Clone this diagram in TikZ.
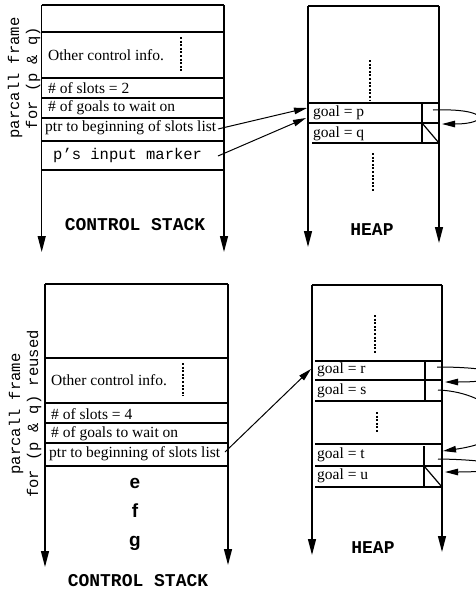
\documentclass[tikz,border=0pt]{standalone}
\usepackage{fontspec}
\setmainfont{Liberation Serif}
\setmonofont{Liberation Mono}
\newfontfamily\lsans{Liberation Sans}
\usetikzlibrary{arrows.meta}

\begin{document}
\begin{tikzpicture}[x=1pt,y=-1pt,
  rule/.style={line width=1.2pt},
  heavy/.style={line width=2.8pt},
  wall/.style={line width=1.3pt,-{Triangle[length=16pt,width=8pt]}},
  dots/.style={line width=1.4pt,dash pattern=on 2pt off 1.6pt},
  ptr/.style={line width=1pt,-{Triangle[length=13pt,width=6.5pt]}},
  txt/.style={anchor=west,inner sep=0pt,font=\fontsize{15.5}{17}\selectfont},
  mono/.style={inner sep=0pt,font=\ttfamily\fontsize{15.5}{18}\selectfont},
  title/.style={inner sep=0pt,font=\ttfamily\bfseries\fontsize{18}{20}\selectfont},
  letter/.style={anchor=base,inner sep=0pt,font=\lsans\bfseries\fontsize{19}{20}\selectfont},
]
\useasboundingbox (0,0) rectangle (476,590);

% ---------- upper picture: control stack ----------
\draw[rule] (41.7,5) -- (224,5);
\draw[wall] (41.7,5) -- (41.7,252);
\draw[wall] (224,5) -- (224,252);
\draw[heavy] (41.7,32) -- (224,32);
\draw[rule] (41.7,78) -- (224,78);
\draw[rule] (41.7,98) -- (224,98);
\draw[rule] (41.7,118) -- (224,118);
\draw[heavy] (41.7,141) -- (224,141);
\draw[heavy] (41.7,170) -- (224,170);
\draw[dots] (181,37) -- (181,71);

\node[txt] (ctlA) at (48,55) {Other control info.};
\node[txt] (slotsA) at (48,88) {\# of slots = 2};
\node[txt] (goalsA) at (48,108) {\# of goals to wait on};
\node[txt] (ptrA) at (45,128) {ptr to beginning of slots list};
\node[mono,anchor=west] (markA) at (53,155) {p’s input marker};
\node[title] (csA) at (135,225) {CONTROL STACK};
\node[mono,rotate=90,align=center] (frameA) at (24,78) {parcall frame\\for (p \& q)};

% ---------- upper picture: heap ----------
\draw[rule] (308,6) -- (439,6);
\draw[wall] (308,6) -- (308,247);
\draw[wall] (439,6) -- (439,243);
\draw[rule] (308,103) -- (439,103);
\draw[rule] (308,123) -- (439,123);
\draw[rule] (312,143) -- (439,143);
\draw[rule] (422,103) -- (422,143);
\draw[rule] (422,123) -- (439,143);
\draw[dots] (370,60) -- (370,100);
\draw[dots] (373,153) -- (373,192);

\node[txt] (gp) at (313,113) {goal = p};
\node[txt] (gq) at (313,134) {goal = q};
\node[title] (heapA) at (372,230) {HEAP};

\coordinate (ptrAend) at (218,129);
\coordinate (markAend) at (218,156);
\coordinate (inP) at (307,108);
\coordinate (inQ) at (306,118);
\coordinate (slotP) at (433,110);
\coordinate (slotQ) at (442,124);
\draw[ptr] (ptrAend) -- (inP);
\draw[ptr] (markAend) -- (inQ);
\draw[ptr] (slotP) .. controls (490,108) and (490,124) .. (slotQ);

% ---------- lower picture: control stack ----------
\draw[rule] (45,284) -- (228,284);
\draw[wall] (45,284) -- (45,567);
\draw[wall] (228,284) -- (228,565);
\draw[heavy] (45,358) -- (228,358);
\draw[rule] (45,403) -- (228,403);
\draw[rule] (45,423) -- (228,423);
\draw[rule] (45,443) -- (228,443);
\draw[heavy] (45,466) -- (228,466);
\draw[dots] (183,363) -- (183,396);

\node[txt] (ctlB) at (51,380) {Other control info.};
\node[txt] (slotsB) at (51,414) {\# of slots = 4};
\node[txt] (goalsB) at (51,434) {\# of goals to wait on};
\node[txt] (ptrB) at (49,454) {ptr to beginning of slots list};
\node[letter] (le) at (135,488) {e};
\node[letter] (lf) at (135,517) {f};
\node[letter] (lg) at (135,546) {g};
\node[title,anchor=base] (csB) at (138,586) {CONTROL STACK};
\node[mono,rotate=90,align=center] (frameB) at (25,414) {parcall frame\\for (p \& q) reused};

% ---------- lower picture: heap ----------
\draw[rule] (312,285) -- (442,285);
\draw[wall] (312,285) -- (312,555);
\draw[wall] (442,285) -- (442,552);
\draw[rule] (315,361) -- (443,361);
\draw[rule] (315,380) -- (443,380);
\draw[rule] (315,401) -- (443,401);
\draw[rule] (425,361) -- (425,401);
\draw[rule] (315,444) -- (442,444);
\draw[rule] (315,466) -- (442,466);
\draw[rule] (315,487) -- (442,487);
\draw[rule] (424,446) -- (424,487);
\draw[rule] (424,466) -- (442,487);
\draw[dots] (375,315) -- (375,353);
\draw[dots] (377,412) -- (377,433);

\node[txt] (gr) at (317,370) {goal = r};
\node[txt] (gs) at (317,391) {goal = s};
\node[txt] (gt) at (317,455) {goal = t};
\node[txt] (gu) at (317,476) {goal = u};
\node[title] (heapB) at (373,548) {HEAP};

\coordinate (ptrBend) at (225,452);
\coordinate (inR) at (311,369);
\coordinate (slotR) at (437,367);
\coordinate (inS) at (445,382);
\coordinate (slotS) at (438,390);
\coordinate (inT) at (443,451);
\coordinate (slotT) at (438,459);
\coordinate (inU) at (445,472);
\draw[ptr] (ptrBend) -- (inR);
\begin{scope}
  \clip (0,0) rectangle (476,590);
  \draw[ptr] (slotR) .. controls (515,367) and (515,382) .. (inS);
  \draw[ptr] (slotS) .. controls (495,392) and (535,438) .. (inT);
  \draw[ptr] (slotT) .. controls (515,460) and (515,472) .. (inU);
\end{scope}
\end{tikzpicture}
\end{document}
